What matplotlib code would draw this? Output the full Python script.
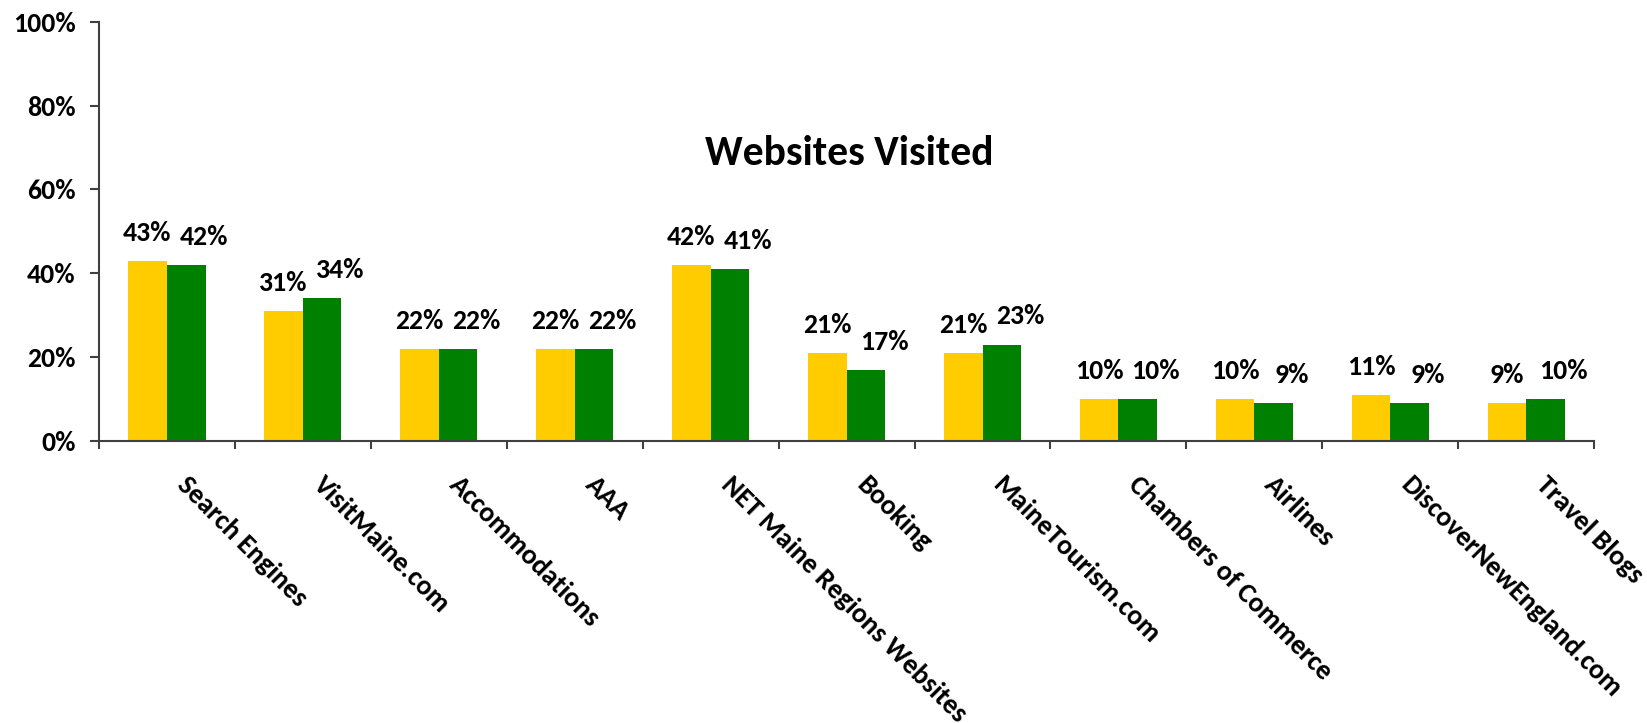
import numpy as np
from matplotlib import pyplot as plt
from matplotlib.ticker import FixedLocator
from matplotlib.transforms import blended_transform_factory

plt.rcParams['font.family'] = ['Carlito', 'Open Sans', 'DejaVu Sans']
plt.rcParams['font.weight'] = 'bold'

categories = ['Search Engines', 'VisitMaine.com', 'Accommodations', 'AAA',
              'NET Maine Regions Websites', 'Booking', 'MaineTourism.com',
              'Chambers of Commerce', 'Airlines', 'DiscoverNewEngland.com',
              'Travel Blogs']
yellow_vals = [43, 31, 22, 22, 42, 21, 21, 10, 10, 11, 9]
green_vals = [42, 34, 22, 22, 41, 17, 23, 10, 9, 9, 10]
y_ticks = [0, 20, 40, 60, 80, 100]

fig = plt.figure(figsize=(16.47, 7.23), dpi=100)
ax = fig.add_axes([0.060, 0.390, 0.908, 0.580])

x = np.arange(len(categories))
w = 0.285
b1 = ax.bar(x - w / 2, yellow_vals, w, color='#FFCC00')
b2 = ax.bar(x + w / 2, green_vals, w, color='#008000')

# Excel nudges the green labels to the right
for bars, vals, dx in ((b1, yellow_vals, 0), (b2, green_vals, 13)):
    for bar, v in zip(bars, vals):
        ax.annotate('{0}%'.format(v), (bar.get_x() + bar.get_width() / 2, v),
                    xytext=(dx, 14.5), textcoords='offset points',
                    ha='center', va='baseline', fontsize=20, fontweight='bold')

ax.set_xlim(-0.5, len(categories) - 0.5)
ax.set_ylim(0, 100)
ax.set_yticks(y_ticks)
ax.set_yticklabels(['{0}%'.format(t) for t in y_ticks], fontsize=20, fontweight='bold')

# ticks at group boundaries; labels on invisible minor ticks, nudged right like Excel
ax.xaxis.set_major_locator(FixedLocator(np.arange(len(categories) + 1) - 0.5))
ax.set_xticklabels([])
ax.xaxis.set_minor_locator(FixedLocator(x + 0.17))
ax.set_xticklabels(categories, minor=True, rotation=-45, ha='left', va='top',
                   rotation_mode='anchor', fontsize=20, fontweight='bold')
ax.tick_params(axis='x', which='minor', length=0, pad=22)
ax.tick_params(axis='x', which='major', length=6, width=1.5, color='#404040', direction='out')
ax.tick_params(axis='y', length=6.5, width=1.5, color='#404040', direction='out', pad=10)

for s in ('top', 'right'):
    ax.spines[s].set_visible(False)
for s in ('left', 'bottom'):
    ax.spines[s].set_color('#404040')
    ax.spines[s].set_linewidth(1.5)

title_tr = blended_transform_factory(ax.transAxes, ax.transData)
ax.text(0.502, 65.9, 'Websites Visited', transform=title_tr,
        ha='center', va='baseline', fontsize=30, fontweight='bold')

fig.savefig('out.png', dpi=100)
